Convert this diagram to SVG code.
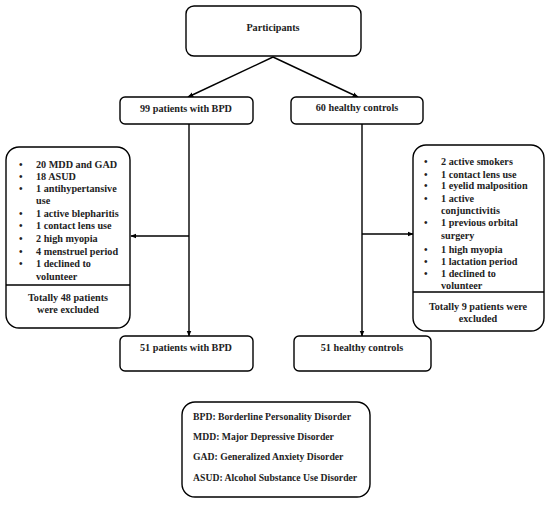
<svg xmlns="http://www.w3.org/2000/svg" width="550" height="505" viewBox="0 0 550 505">
<style>
.box{fill:#fff;stroke:#000;stroke-width:1.4}
.t{font-family:"Liberation Serif",serif;font-weight:bold;font-size:10.2px;fill:#222}
.lg{font-size:9.7px}
.c{text-anchor:middle}
.ln{stroke:#000;stroke-width:1.4;fill:none}
</style>
<defs>
<marker id="ah" viewBox="0 0 10 10" refX="9" refY="5" markerWidth="6" markerHeight="6" orient="auto" markerUnits="userSpaceOnUse"><path d="M0,1 L10,5 L0,9 z" fill="#000"/></marker>
</defs>
<rect width="550" height="505" fill="#fff"/>
<g id="connectors">
<path class="ln" d="M273,57 L188,97" marker-end="url(#ah)"/>
<path class="ln" d="M273,57 L358,97" marker-end="url(#ah)"/>
<path class="ln" d="M189,124 L189,336" marker-end="url(#ah)"/>
<path class="ln" d="M189,236 L131,236" marker-end="url(#ah)"/>
<path class="ln" d="M362,124 L362,336" marker-end="url(#ah)"/>
<path class="ln" d="M362,234 L413,234" marker-end="url(#ah)"/>
</g>
<g id="participants">
<rect class="box" x="186" y="6" width="175" height="50" rx="8"/>
<text class="t c" x="273" y="31">Participants</text>
</g>
<g id="bpd99">
<rect class="box" x="120" y="97" width="133" height="27" rx="5"/>
<text class="t c" x="186" y="112">99 patients with BPD</text>
</g>
<g id="hc60">
<rect class="box" x="291" y="97" width="132" height="27" rx="5"/>
<text class="t c" x="357" y="111">60 healthy controls</text>
</g>
<g id="excl-left">
<rect class="box" x="6" y="147" width="124" height="181" rx="13"/>
<line class="ln" x1="6" y1="285" x2="130" y2="285"/>
<g class="t">
<text x="19" y="167.5">•</text><text x="36" y="167.5">20 MDD and GAD</text>
<text x="19" y="179.5">•</text><text x="36" y="179.5">18 ASUD</text>
<text x="19" y="192">•</text><text x="36" y="192">1 antihypertansive</text>
<text x="36" y="204">use</text>
<text x="19" y="216.5">•</text><text x="36" y="216.5">1 active blepharitis</text>
<text x="19" y="229">•</text><text x="36" y="229">1 contact lens use</text>
<text x="19" y="242">•</text><text x="36" y="242">2 high myopia</text>
<text x="19" y="254.5">•</text><text x="36" y="254.5">4 menstruel period</text>
<text x="19" y="267">•</text><text x="36" y="267">1 declined to</text>
<text x="36" y="279.5">volunteer</text>
</g>
<text class="t c" x="68" y="300.5">Totally 48 patients</text>
<text class="t c" x="68" y="312.5">were excluded</text>
</g>
<g id="excl-right">
<rect class="box" x="413" y="145" width="131" height="186" rx="13"/>
<line class="ln" x1="413" y1="292" x2="544" y2="292"/>
<g class="t">
<text x="424" y="165.2">•</text><text x="441" y="165.2">2 active smokers</text>
<text x="424" y="177.5">•</text><text x="441" y="177.5">1 contact lens use</text>
<text x="424" y="189.2">•</text><text x="441" y="189.2">1 eyelid malposition</text>
<text x="424" y="201.8">•</text><text x="441" y="201.8">1 active</text>
<text x="441" y="213.5">conjunctivitis</text>
<text x="424" y="225.8">•</text><text x="441" y="225.8">1 previous orbital</text>
<text x="441" y="238.5">surgery</text>
<text x="424" y="252.8">•</text><text x="441" y="252.8">1 high myopia</text>
<text x="424" y="265.2">•</text><text x="441" y="265.2">1 lactation period</text>
<text x="424" y="276.8">•</text><text x="441" y="276.8">1 declined to</text>
<text x="441" y="289">volunteer</text>
</g>
<text class="t c" x="478" y="310">Totally 9 patients were</text>
<text class="t c" x="478" y="321.8">excluded</text>
</g>
<g id="bpd51">
<rect class="box" x="120" y="336" width="133" height="35" rx="5"/>
<text class="t c" x="186" y="351">51 patients with BPD</text>
</g>
<g id="hc51">
<rect class="box" x="294" y="336" width="137" height="35" rx="5"/>
<text class="t c" x="362" y="351">51 healthy controls</text>
</g>
<g id="legend">
<rect class="box" x="182" y="402" width="188" height="95" rx="13"/>
<text class="t lg" x="193" y="419.5">BPD: Borderline Personality Disorder</text>
<text class="t lg" x="193" y="439.5">MDD: Major Depressive Disorder</text>
<text class="t lg" x="193" y="459.5">GAD: Generalized Anxiety Disorder</text>
<text class="t lg" x="193" y="480.5">ASUD: Alcohol Substance Use Disorder</text>
</g>
</svg>
